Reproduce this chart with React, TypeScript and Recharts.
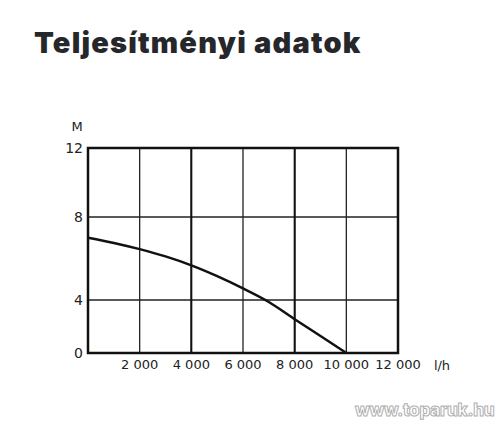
import React from 'react'
import { LineChart, Line, XAxis, YAxis, CartesianGrid, ReferenceLine, ReferenceArea } from 'recharts'

// flow rate (l/h) and delivery head (m)
const flowRates = [0, 1000, 2000, 3000, 4000, 5000, 6000, 7000, 8000, 9000, 10000]
const headValues = [7.0, 6.75, 6.45, 6.1, 5.67, 5.15, 4.56, 3.85, 2.55, 1.28, 0]

const flowTicks = [2000, 4000, 6000, 8000, 10000, 12000]
const headTicks = [0, 4, 8, 12]
// the printed grid is not evenly spaced: cumulative drawn height of each band
const headTickSpacing = [0, 53, 136, 205]

// map a head value onto the uneven printed axis (piecewise linear between ticks)
function toAxis(v: number) {
  for (let i = 1; i < headTicks.length; i++) {
    if (v <= headTicks[i]) {
      const t = (v - headTicks[i - 1]) / (headTicks[i] - headTicks[i - 1])
      return headTickSpacing[i - 1] + t * (headTickSpacing[i] - headTickSpacing[i - 1])
    }
  }
  return headTickSpacing[headTickSpacing.length - 1]
}

const chartData = flowRates.map((q, i) => ({ q, h: toAxis(headValues[i]) }))

const fmtFlow = (v: number) => {
  const s = String(v)
  return s.slice(0, s.length - 3) + ' ' + s.slice(-3)
}

const FONT = '"DejaVu Sans", sans-serif'

export default function App() {
  return (
    <div style={{ position: 'absolute', left: 0, top: 0, width: 500, height: 423, background: '#fff' }}>
      <div
        style={{
          position: 'absolute',
          left: 34,
          top: 25,
          fontFamily: 'Inter, sans-serif',
          fontWeight: 900,
          fontSize: 29,
          letterSpacing: 1.2,
          color: '#26272b',
          whiteSpace: 'nowrap',
        }}
      >
        Teljesítményi adatok
      </div>
      <LineChart
        width={500}
        height={423}
        data={chartData}
        margin={{ top: 148, right: 102, left: 48, bottom: 40 }}
      >
        <CartesianGrid stroke="#222" strokeWidth={1.3} />
        <XAxis
          dataKey="q"
          type="number"
          domain={[0, 12000]}
          ticks={flowTicks}
          tickFormatter={fmtFlow}
          axisLine={false}
          tickLine={false}
          tickSize={0}
          tickMargin={7}
          height={30}
          interval={0}
          tick={{ fontSize: 13, fill: '#222', fontFamily: FONT }}
          label={{
            content: (props: any) => {
              const vb = props.viewBox
              return (
                <text x={vb.x + vb.width + 44} y={vb.y + 12} textAnchor="middle" dominantBaseline="central" fontSize={13} fill="#222" fontFamily={FONT}>
                  l/h
                </text>
              )
            },
          }}
        />
        <YAxis
          type="number"
          domain={[0, 205]}
          ticks={headTickSpacing}
          tickFormatter={(v: number) => String(headTicks[headTickSpacing.indexOf(v)])}
          axisLine={false}
          tickLine={false}
          tickSize={0}
          tickMargin={5}
          width={40}
          interval={0}
          tick={{ fontSize: 14, fill: '#222', fontFamily: FONT }}
          label={{
            content: (props: any) => {
              const vb = props.viewBox
              return (
                <text x={vb.x + 29} y={vb.y - 22} textAnchor="middle" dominantBaseline="central" fontSize={13} fill="#222" fontFamily={FONT}>
                  M
                </text>
              )
            },
          }}
        />
        <ReferenceLine x={4000} stroke="#111" strokeWidth={2} />
        <ReferenceLine x={8000} stroke="#111" strokeWidth={2} />
        <ReferenceArea x1={0} x2={12000} y1={0} y2={205} fill="none" stroke="#111" strokeWidth={2.5} />
        <Line
          dataKey="h"
          type="monotone"
          stroke="#111"
          strokeWidth={2.5}
          dot={false}
          isAnimationActive={false}
        />
      </LineChart>
      <div
        style={{
          position: 'absolute',
          left: 355,
          top: 400,
          fontFamily: 'Inter, sans-serif',
          fontWeight: 800,
          fontSize: 17,
          color: '#fff',
          WebkitTextStroke: '1px #b0b0b0',
          letterSpacing: -0.2,
          whiteSpace: 'nowrap',
        }}
      >
        www.toparuk.hu
      </div>
    </div>
  )
}
